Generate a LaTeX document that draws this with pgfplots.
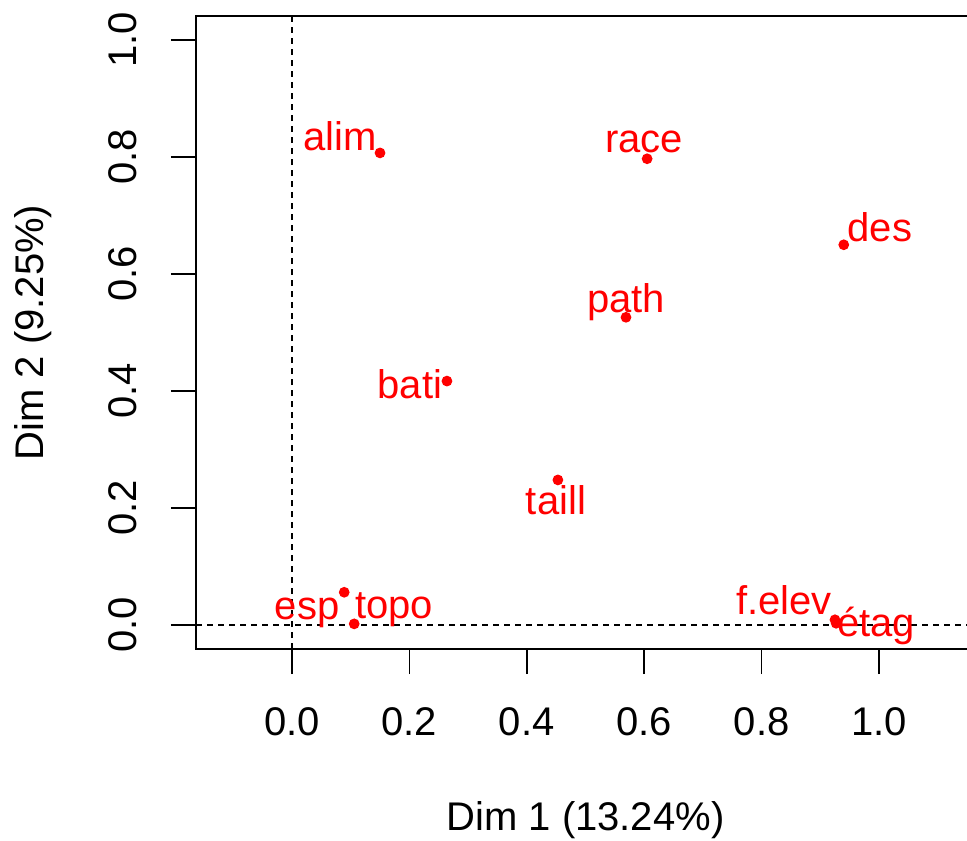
\documentclass[border=0pt]{standalone}
\usepackage{fontspec}
\setmainfont{Liberation Sans}
\usepackage{pgfplots}
\pgfplotsset{compat=1.18}
\newcommand{\fs}{\fontsize{12}{14.4}\selectfont}
\begin{document}
\begin{tikzpicture}
\begin{axis}[
  scale only axis,
  x=176.1pt, y=175.5pt,
  xmin=-0.1635, xmax=1.1635,
  ymin=-0.041, ymax=1.041,
  axis line style={line width=0.5pt},
  xtick={0,0.2,0.4,0.6,0.8,1}, ytick={0,0.2,0.4,0.6,0.8,1},
  xtick pos=bottom, ytick pos=left,
  tick align=outside,
  major tick length=7.5pt,
  tick style={black, line width=0.5pt},
  /pgf/number format/assume math mode=true,
  /pgf/number format/.cd, fixed, fixed zerofill, precision=1, /pgfplots/.cd,
  every tick label/.append style={font=\fs},
  xticklabel style={anchor=center},
  yticklabel style={anchor=center, rotate=90},
  xticklabel shift=14.4pt,
  yticklabel shift=14.4pt,
  xlabel={Dim 1 (13.24\%)},
  ylabel={Dim 2 (9.25\%)},
  label style={font=\fs},
  xlabel style={at={(axis description cs:0.5,-0.2701)}, anchor=center},
  ylabel style={at={(axis description cs:-0.2092,0.5)}, anchor=center},
]
% reference lines
\addplot[black, line width=0.4pt, dash pattern=on 1.8pt off 1.5pt, mark=none]
  coordinates {(0,-0.041) (0,1.041)};
\addplot[black, line width=0.4pt, dash pattern=on 1.8pt off 1.5pt, mark=none]
  coordinates {(-0.1635,0) (1.1635,0)};
% variables
\addplot[only marks, red, mark=*, mark size=1.4pt,
  nodes near coords, point meta=explicit symbolic,
  visualization depends on={value \thisrow{dx}\as\dx},
  visualization depends on={value \thisrow{dy}\as\dy},
  every node near coord/.append style={font=\fs, text=red, anchor=base,
    inner sep=0pt, xshift={\dx*0.3pt}, yshift={\dy*0.3pt}},
] table[x=x, y=y, meta=lab] {
x     y     lab    dx   dy
0.150 0.807 alim   -40  2
0.605 0.797 race   -3   6
0.940 0.650 des    36   3
0.569 0.526 path   0    5
0.264 0.417 bati   -37  -17
0.453 0.248 taill  -2   -35
0.089 0.056 esp    -37  -27
0.106 0.002 topo   40   5
0.925 0.009 f.elev -51  5
0.927 0.003 étag   40   -13
};
\coordinate (BL) at (axis cs:-0.4974,-0.3675);
\coordinate (TR) at (axis cs:1.1499,1.0684);
\end{axis}
\pgfresetboundingbox
\useasboundingbox (BL) rectangle (TR);
\end{tikzpicture}
\end{document}
